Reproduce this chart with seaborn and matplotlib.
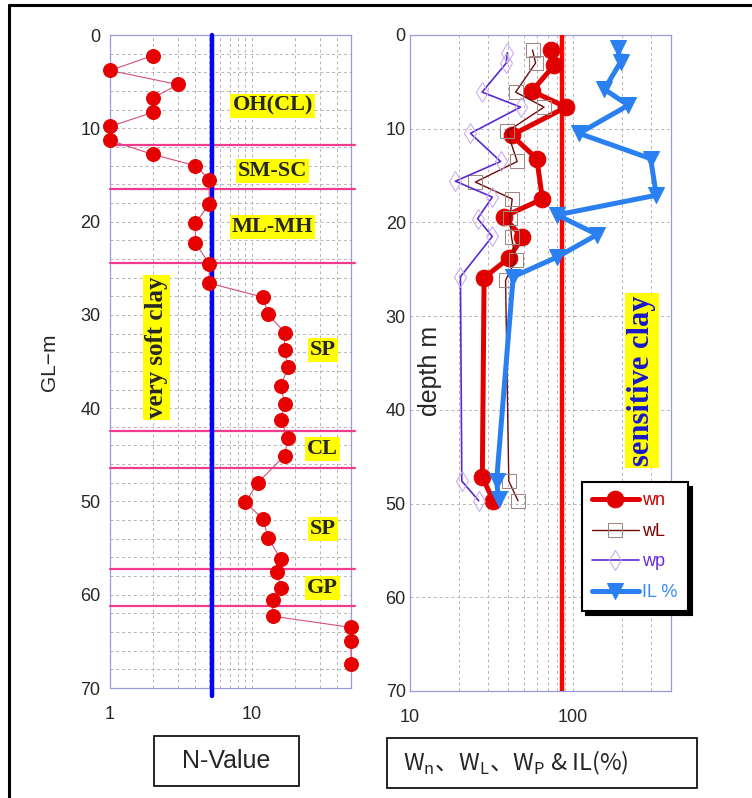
import numpy as np
import pandas as pd
import matplotlib.pyplot as plt
import seaborn as sns
from matplotlib.lines import Line2D
from matplotlib.patches import Rectangle
from matplotlib.ticker import MultipleLocator, NullFormatter, LogLocator

sns.set_style("white")
plt.rcParams['font.family'] = ['Liberation Sans', 'Noto Sans CJK JP', 'DejaVu Sans']

# N-value (SPT) vs depth
n_depth = [2.2, 3.8, 5.3, 6.8, 8.3, 9.8, 11.3, 12.8, 14.0, 15.5, 18.1, 20.2, 22.3,
           24.5, 26.6, 28.1, 29.9, 31.9, 33.8, 35.6, 37.6, 39.5, 41.3, 43.2, 45.1,
           48.0, 50.1, 51.9, 53.9, 56.2, 57.6, 59.3, 60.6, 62.3, 63.5, 65.0, 67.4]
n_value = [2, 1, 3, 2, 2, 1, 1, 2, 4, 5, 5, 4, 4,
           5, 5, 12, 13, 17, 17, 18, 16, 17, 16, 18, 17,
           11, 9, 12, 13, 16, 15, 16, 14, 14, 50, 50, 50]
n_limit = 5.2

# soil layer boundaries and names
layer_bounds = [11.8, 16.5, 24.4, 42.4, 46.4, 57.2, 61.2]
layer_names = ['OH(CL)', 'SM-SC', 'ML-MH', 'SP', 'CL', 'SP', 'GP']
layer_depth = [7.6, 14.6, 20.6, 33.8, 44.4, 52.9, 59.3]
layer_x = [14, 14, 14, 31.6, 31.6, 31.6, 31.6]

# water content, liquid limit, plastic limit, liquidity index
wn_depth = [1.6, 3.2, 6.0, 7.7, 10.7, 13.2, 17.5, 19.4, 21.6, 23.8, 25.9, 47.2, 49.7]
wn = [73, 77, 56, 91, 42, 60, 65, 37.5, 49, 40.5, 28.5, 27.8, 32.5]

wl_depth = [1.6, 3.0, 6.1, 7.7, 10.3, 13.5, 15.7, 17.5, 19.5, 21.6, 24.0, 26.2, 47.6, 49.7]
wl = [56.5, 59, 44.5, 66.5, 39.5, 45.5, 25.2, 42.4, 41, 42, 44.5, 38.6, 40.4, 46]

wp_depth = [1.9, 3.0, 6.1, 7.7, 10.5, 13.5, 15.6, 17.3, 19.6, 21.5, 25.8, 47.6, 49.7]
wp = [39.5, 39, 27.7, 47.7, 23.5, 36, 19, 32, 26, 32, 20.4, 20.8, 26.4]

il_depth = [1.4, 2.9, 5.8, 7.5, 10.5, 13.2, 17.1, 19.2, 21.3, 23.7, 25.8, 47.6, 49.5]
il = [189, 196, 156, 219, 109, 300, 325, 80, 141, 80, 43, 34, 35]
w_limit = 86

fig = plt.figure(figsize=(7.52, 7.98), dpi=100)
ax1 = fig.add_axes([0.1463, 0.1378, 0.3205, 0.8183])
ax2 = fig.add_axes([0.5452, 0.1341, 0.3471, 0.8221])

frame_col = '#9a9ae0'
grid_kw = dict(color='#b4b4b4', linestyle=(0, (3, 3)), linewidth=0.7)

# ---------------- left panel : N-value ----------------
n_df = pd.DataFrame({'depth': n_depth, 'N': n_value})
sns.lineplot(data=n_df, x='N', y='depth', sort=False, estimator=None, ax=ax1,
             color='#d4507a', linewidth=0.8, marker='o', markersize=10,
             markerfacecolor='#e60000', markeredgecolor='#e60000', clip_on=False, zorder=5)

ax1.set_xscale('log')
ax1.set_xlim(1, 50)
ax1.set_ylim(70, 0)
ax1.set_xticks([1, 10])
ax1.set_xticklabels(['1', '10'])
ax1.xaxis.set_minor_locator(LogLocator(subs=np.arange(2, 10)))
ax1.xaxis.set_minor_formatter(NullFormatter())
ax1.set_yticks(range(0, 71, 10))
ax1.yaxis.set_minor_locator(MultipleLocator(2))
ax1.grid(True, which='both', **grid_kw)
ax1.tick_params(which='both', length=0, labelsize=13)
ax1.tick_params(axis='x', pad=13)
ax1.tick_params(axis='y', pad=7)
ax1.set_xlabel('')
ax1.set_ylabel('')

for d in layer_bounds:
    ax1.axhline(d, xmin=0, xmax=1.015, color='#f03c8c', linewidth=1.6, clip_on=False, zorder=3)
ax1.axvline(n_limit, ymin=-0.012, ymax=1, color='#0000ff', linewidth=3.2, clip_on=False, zorder=4)

box = dict(facecolor='#ffff00', edgecolor='none', pad=1.5)
for name, d, x in zip(layer_names, layer_depth, layer_x):
    ax1.text(x, d, name, ha='center', va='center', fontsize=16, fontweight='bold',
             family='Liberation Serif', bbox=box, zorder=6)
ax1.text(2.14, 33.5, 'very soft clay', rotation=90, ha='center', va='center', fontsize=18,
         fontweight='bold', family='Liberation Serif', bbox=box, zorder=6)

# ---------------- right panel : water contents ----------------
series = [
    ('wn', wn_depth, wn, dict(color='#e00000', linewidth=3.6, marker='o', markersize=12,
                              markerfacecolor='#e00000', markeredgecolor='#e00000')),
    ('wL', wl_depth, wl, dict(color='#6e0a0a', linewidth=1.0, marker='s', markersize=10,
                              markerfacecolor='none', markeredgecolor='#a08585')),
    ('wp', wp_depth, wp, dict(color='#5a2ad0', linewidth=1.2, marker='d', markersize=10,
                              markerfacecolor='none', markeredgecolor='#c8a8f0')),
    ('IL %', il_depth, il, dict(color='#2a80f0', linewidth=3.6, marker='v', markersize=11,
                                markerfacecolor='#2a80f0', markeredgecolor='#2a80f0')),
]
for name, dep, val, style in series:
    df = pd.DataFrame({'depth': dep, 'value': val})
    sns.lineplot(data=df, x='value', y='depth', sort=False, estimator=None, ax=ax2,
                 label=name, zorder=5, **style)

ax2.set_xscale('log')
ax2.set_xlim(10, 400)
ax2.set_ylim(70, 0)
ax2.set_xticks([10, 100])
ax2.set_xticklabels(['10', '100'])
ax2.xaxis.set_minor_locator(LogLocator(subs=np.arange(2, 10)))
ax2.xaxis.set_minor_formatter(NullFormatter())
ax2.set_yticks(range(0, 71, 10))
ax2.grid(True, which='both', axis='x', **grid_kw)
ax2.grid(True, which='major', axis='y', **grid_kw)
ax2.tick_params(which='both', length=0, labelsize=13)
ax2.tick_params(axis='x', pad=13)
ax2.tick_params(axis='y', pad=3)
ax2.set_xlabel('')
ax2.set_ylabel('')
ax2.axvline(w_limit, color='#ff0000', linewidth=3.2, zorder=4)

ax2.text(13.3, 35.8, 'depth m', rotation=90, ha='center', va='center', fontsize=18)
ax2.text(265, 36.9, 'sensitive clay', rotation=90, ha='center', va='center', fontsize=22,
         fontweight='bold', family='Liberation Serif', color='#1818cc', bbox=box, zorder=6)

handles, labels = ax2.get_legend_handles_labels()
leg = ax2.legend(handles, labels, loc='upper left', bbox_to_anchor=(0.658, 0.318),
                 frameon=True, fancybox=False, edgecolor='black', framealpha=1,
                 shadow={'ox': 3, 'oy': -3, 'color': 'black', 'alpha': 1},
                 fontsize=13, handlelength=2.6, labelspacing=0.75, borderpad=0.55,
                 handletextpad=0.2, borderaxespad=0)
leg.get_frame().set_linewidth(1.5)
leg.set_zorder(10)
for t, c in zip(leg.get_texts(), ['#cc0000', '#7a0000', '#6a2ae0', '#3a8aee']):
    t.set_color(c)

for ax in (ax1, ax2):
    for sp in ax.spines.values():
        sp.set_color(frame_col)
        sp.set_linewidth(0.9)

# ---------------- labels under the panels and outer frame ----------------
fig.text(50 / 752, 1 - 362 / 798, 'GL\u2212m', rotation=90, ha='center', va='center', fontsize=15)

fig.add_artist(Rectangle((154 / 752, 1 - 786 / 798), 145 / 752, 50 / 798, transform=fig.transFigure,
                         facecolor='white', edgecolor='black', linewidth=1.2))
fig.text(226.5 / 752, 1 - 761 / 798, 'N-Value', ha='center', va='center', fontsize=18)

fig.add_artist(Rectangle((387 / 752, 1 - 788 / 798), 310 / 752, 50 / 798, transform=fig.transFigure,
                         facecolor='white', edgecolor='black', linewidth=1.2))
fig.text(403 / 752, 1 - 763 / 798, 'W$_\\mathregular{n}$、W$_\\mathregular{L}$、W$_\\mathregular{P}$ & IL(%)',
         ha='left', va='center', fontsize=17, family='Noto Sans CJK JP')

fig.add_artist(Line2D([9 / 752, 1], [1 - 5 / 798, 1 - 5 / 798], transform=fig.transFigure,
                      color='black', linewidth=2.2))
fig.add_artist(Line2D([9 / 752, 9 / 752], [0, 1 - 5 / 798], transform=fig.transFigure,
                      color='black', linewidth=2.2))

fig.savefig('out.png', dpi=100)
